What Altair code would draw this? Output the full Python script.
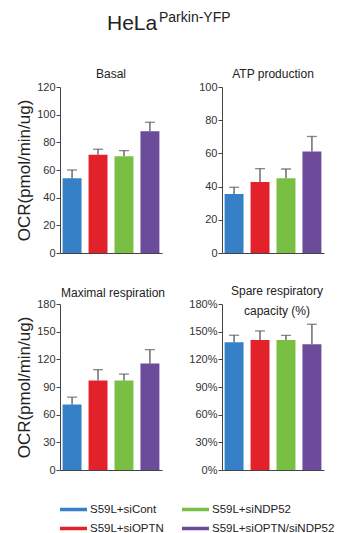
import altair as alt
import pandas as pd

groups = ["S59L+siCont", "S59L+siOPTN", "S59L+siNDP52", "S59L+siOPTN/siNDP52"]
legend_order = ["S59L+siCont", "S59L+siNDP52", "S59L+siOPTN", "S59L+siOPTN/siNDP52"]
colors = ["#3580c6", "#e2212b", "#79bf43", "#6c4b9b"]

basal = [54, 71, 70, 88]
basal_err = [6, 4, 4, 6.5]
atp = [35.6, 42.8, 45, 61.2]
atp_err = [4, 8, 5.6, 9]
maximal = [71, 97, 97, 115.5]
maximal_err = [8, 11.8, 7, 15]
spare = [138.6, 141, 141, 136.4]
spare_err = [7.5, 9.8, 5, 21.6]

title_main = "HeLa"
title_sup = "Parkin-YFP"
panel_titles = ["Basal", "ATP production", "Maximal respiration",
                "Spare respiratory\ncapacity (%)"]
ytitle = "OCR(pmol/min/ug)"

FONT = "Liberation Sans"
AX = "#444444"
TXT = "#222222"
W = 102
H = 166


def label(text, x, y, size=12, align="center"):
    return alt.Chart(pd.DataFrame({"t": [text]})).mark_text(
        fontSize=size, align=align, baseline="alphabetic", color=TXT, font=FONT,
        lineBreak="\n", lineHeight=20
    ).encode(text="t:N", x=alt.value(x), y=alt.value(y))


def panel(values, errs, ymax, step, texts, ytitle=None, pct=False):
    df = pd.DataFrame({"group": groups, "value": values,
                       "upper": [v + e for v, e in zip(values, errs)]})
    base = alt.Chart(df)
    yaxis = dict(values=list(range(0, ymax + 1, step)), labelOverlap=False)
    if pct:
        yaxis["labelExpr"] = "datum.value + '%'"
    yaxis["title"] = ytitle if ytitle else ""
    sc = alt.Scale(domain=[0, ymax], nice=False)
    yax = alt.Axis(**yaxis)
    xs = alt.Scale(paddingInner=0.27, paddingOuter=0.1)
    xax = alt.Axis(labels=False, ticks=False, title=None, domainColor=AX)
    x = alt.X("group:N", sort=groups, scale=xs, axis=xax)
    bars = base.mark_bar().encode(
        x=x, y=alt.Y("value:Q", scale=sc, axis=yax),
        color=alt.Color("group:N", scale=alt.Scale(domain=groups, range=colors),
                        legend=alt.Legend(title=None, values=legend_order)))
    rule = base.mark_rule(color="#555555", strokeWidth=1.3).encode(
        x=x, y=alt.Y("value:Q", scale=sc, axis=yax), y2="upper:Q")
    cap = base.mark_tick(color="#555555", thickness=1.3, size=10).encode(
        x=x, y=alt.Y("upper:Q", scale=sc, axis=yax))
    return alt.layer(bars, rule, cap, *texts).properties(width=W, height=H)


p1 = panel(basal, basal_err, 120, 20,
           [label(panel_titles[0], 51, -9.5),
            label(title_main, 47, -57, size=21, align="left"),
            label(title_sup, 99, -65.5, size=14, align="left")],
           ytitle=ytitle)
p2 = panel(atp, atp_err, 100, 20, [label(panel_titles[1], 51, -9.5)])
p3 = panel(maximal, maximal_err, 180, 30, [label(panel_titles[2], 53, -7)],
           ytitle=ytitle)
p4 = panel(spare, spare_err, 180, 30, [label(panel_titles[3], 55, -9)], pct=True)

chart = alt.concat(p1, p2, p3, p4, columns=2, bounds="flush",
                   spacing={"row": 51, "column": 60}).configure(
    font=FONT, padding={"left": 7, "top": 2, "right": 0, "bottom": 0}
).configure_view(strokeWidth=0).configure_axisY(
    grid=False, domainColor=AX, tickColor=AX, tickSize=4, labelFontSize=11,
    labelColor="#333333", labelPadding=1, labelOverlap=False, titleFontSize=17,
    titleFontWeight="normal", titleColor=TXT, titlePadding=3, titleFont=FONT,
    labelFont=FONT
).configure_legend(
    orient="bottom", offset=21, columns=2, padding=0,
    symbolType="M-1,-0.13H1V0.13H-1Z", symbolSize=729, symbolStrokeWidth=0,
    labelFontSize=11.5, labelColor=TXT, labelFont=FONT, labelOffset=3,
    columnPadding=18, rowPadding=0
)

chart.save("out.html", embed_options={"renderer": "svg", "actions": False})
